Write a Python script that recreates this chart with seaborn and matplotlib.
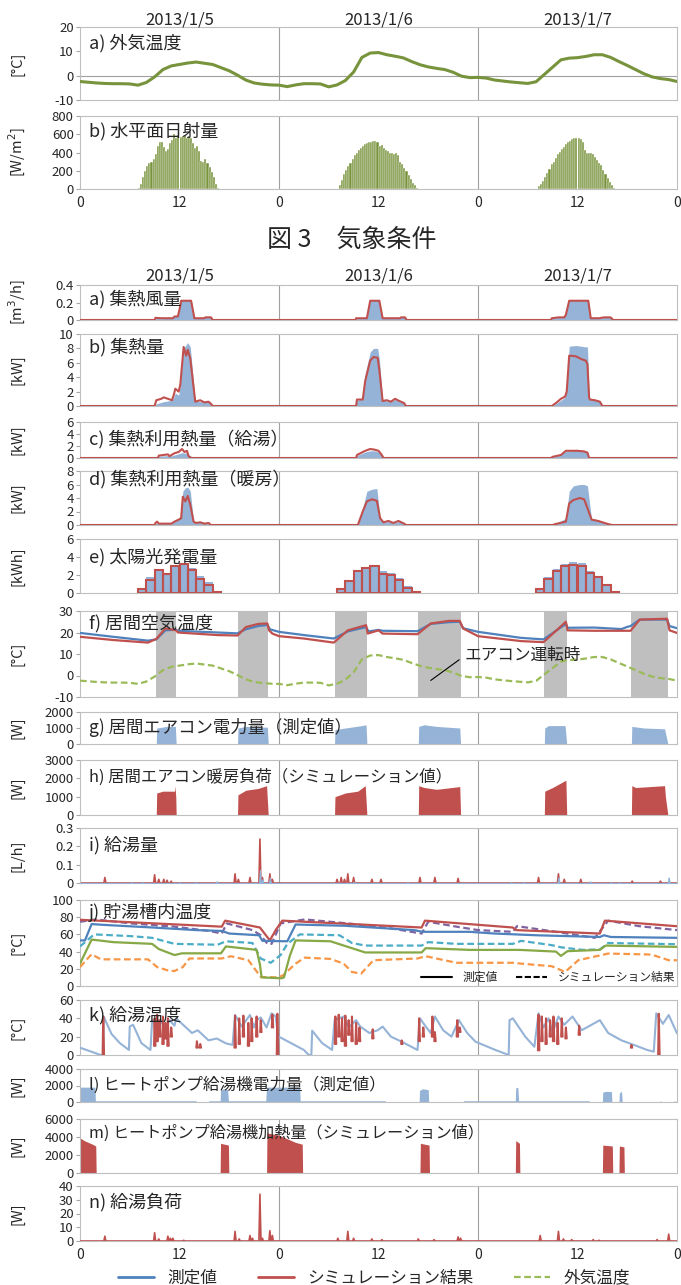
import numpy as np
import matplotlib
matplotlib.use('Agg')
import matplotlib.pyplot as plt
import seaborn as sns
from matplotlib.lines import Line2D

# ---------------- data (hours from 2013/1/5 0:00) ----------------
DAYS = ['2013/1/5', '2013/1/6', '2013/1/7']
X_TICKS = [0, 12, 24, 36, 48, 60, 72]
X_TICK_LABELS = ['0', '12', '0', '12', '0', '12', '0']

HOURS = list(range(73))
OUT_TEMP = [-2.4, -2.7, -3.0, -3.2, -3.3, -3.3, -3.4, -3.9, -2.8, -0.5, 2.5, 4.0, 4.6,
            5.2, 5.6, 5.1, 4.6, 3.3, 2.0, 0.2, -1.8, -3.0, -3.5, -3.8, -3.9, -4.5, -3.8,
            -3.3, -3.3, -3.4, -4.6, -3.8, -2.0, 1.5, 7.5, 9.3, 9.5, 8.6, 8.0, 7.3, 5.8,
            4.5, 3.6, 3.0, 2.5, 1.4, -0.2, -0.8, -0.7, -1.0, -1.8, -2.2, -2.6, -2.9, -3.2,
            -2.5, 0.5, 3.5, 6.5, 7.2, 7.4, 7.9, 8.6, 8.6, 7.5, 5.8, 4.2, 2.5, 0.8, -0.5,
            -1.2, -1.6, -2.4]

# horizontal solar radiation, 15-minute values, one list per day
SOLAR_START = [7.0, 31.0, 55.0]
SOLAR_D1 = [10, 60, 130, 200, 250, 280, 300, 330, 380, 470, 510, 520, 460, 420, 440, 500,
            540, 600, 560, 590, 570, 580, 590, 560, 580, 560, 500, 450, 470, 420, 310, 300,
            330, 290, 240, 190, 130, 60, 10]
SOLAR_D2 = [5, 40, 100, 160, 210, 250, 290, 330, 370, 400, 430, 450, 470, 490, 500, 510,
            520, 530, 530, 510, 470, 480, 450, 430, 420, 400, 390, 380, 400, 370, 300, 270,
            230, 200, 150, 110, 70, 40, 10]
SOLAR_D3 = [5, 30, 60, 90, 130, 170, 220, 270, 300, 340, 380, 410, 440, 460, 490, 510,
            530, 545, 555, 560, 555, 550, 520, 430, 400, 390, 400, 380, 350, 320, 290, 260,
            210, 160, 120, 80, 40, 15, 5]

# a) collector air flow
FLOW_T = [0, 9.0, 9.1, 9.8, 11.2, 11.4, 11.8, 12.0, 12.2, 13.4, 13.8, 15.0, 15.1, 15.8, 16.0,
          33.2, 33.3, 34.6, 35.0, 36.1, 36.5, 38.6, 38.7, 39.2, 39.4, 56.8, 56.9, 57.7, 58.4,
          58.6, 59.0, 61.3, 61.6, 62.6, 63.2, 64.0, 64.3, 72]
FLOW_SIM = [0, 0, 0.025, 0.02, 0.02, 0.04, 0.04, 0.12, 0.22, 0.22, 0.02, 0.02, 0.03, 0.03, 0,
            0, 0.02, 0.02, 0.22, 0.22, 0.02, 0.02, 0.03, 0.03, 0, 0, 0.02, 0.03, 0.03,
            0.06, 0.22, 0.22, 0.02, 0.02, 0.03, 0.03, 0, 0]
FLOW_MEAS = [0, 0, 0.02, 0.015, 0.02, 0.05, 0.06, 0.2, 0.23, 0.23, 0.02, 0.02, 0.03, 0.03, 0,
             0, 0.015, 0.02, 0.23, 0.23, 0.02, 0.02, 0.03, 0.03, 0, 0, 0.02, 0.03, 0.03,
             0.1, 0.23, 0.23, 0.02, 0.02, 0.03, 0.03, 0, 0]

# b) collected heat [kW]
HEAT_T = [0, 9.0, 9.2, 9.8, 10.1, 11.1, 11.3, 11.5, 11.9, 12.1, 12.5, 12.8, 13.0, 13.3, 13.9,
          14.5, 15.0, 15.5, 15.8, 16.0, 33.3, 33.4, 34.1, 34.4, 35.0, 35.4, 35.9, 36.1, 36.5,
          37.0, 37.5, 38.0, 38.5, 39.1, 39.3, 56.9, 57.5, 58.0, 58.5, 58.7, 59.0, 59.8, 60.5,
          61.0, 61.2, 61.4, 61.5, 62.1, 62.7, 63.0, 72]
HEAT_SIM = [0, 0, 0.8, 1.0, 1.2, 0.8, 1.5, 2.4, 2.0, 3.0, 8.2, 7.0, 7.8, 6.6, 0.6,
            0.8, 0.5, 0.6, 0.3, 0, 0, 0.9, 0.9, 3.5, 6.3, 6.8, 6.7, 5.0, 0.7,
            0.8, 0.6, 1.0, 0.7, 0.4, 0, 0, 0.5, 1.0, 1.3, 2.0, 7.0, 6.9, 6.5,
            6.3, 5.8, 1.2, 0.9, 0.8, 0.6, 0, 0]
HEAT_MEAS = [0, 0, 0.3, 0.5, 0.6, 0.8, 1.2, 1.8, 1.5, 3.0, 8.0, 8.5, 8.8, 8.2, 0.7,
             0.6, 0.6, 0.5, 0.2, 0, 0, 0.8, 1.0, 4.5, 7.5, 8.0, 8.0, 6.5, 0.8,
             0.7, 0.6, 0.9, 0.6, 0.4, 0, 0, 0.4, 0.8, 1.2, 2.5, 8.3, 8.4, 8.3,
             8.2, 8.2, 1.5, 0.9, 0.8, 0.6, 0, 0]

# c) collected heat used for hot water [kW]
USE_HW_T = [0, 9.4, 9.5, 10.6, 10.8, 11.4, 11.9, 12.3, 12.6, 12.9, 13.1, 13.4, 13.9, 33.3, 33.4,
            34.4, 35.0, 35.5, 36.0, 36.4, 36.6, 56.8, 57.0, 58.0, 58.6, 60.0, 60.8, 61.2, 61.4, 72]
USE_HW_SIM = [0, 0, 0.4, 0.6, 0.3, 0.8, 1.0, 1.5, 1.0, 1.2, 0.3, 0, 0, 0, 0.5,
              1.2, 1.5, 1.4, 1.2, 0.5, 0, 0, 0.2, 0.5, 1.2, 1.2, 1.1, 0.9, 0, 0]
USE_HW_MEAS = [0, 0, 0.3, 0.4, 0.3, 0.5, 0.7, 0.9, 0.8, 0.9, 0.5, 0.3, 0, 0, 0.4,
               1.0, 1.2, 1.2, 1.0, 0.4, 0, 0, 0.2, 0.6, 1.1, 1.3, 1.2, 1.0, 0, 0]

# d) collected heat used for space heating [kW]
USE_HT_T = [0, 9.0, 9.1, 9.3, 9.5, 11.0, 11.4, 11.9, 12.2, 12.4, 12.7, 13.0, 13.3, 13.7, 14.0,
            14.5, 15.0, 15.5, 15.8, 33.5, 33.6, 34.1, 34.6, 35.2, 35.8, 36.2, 36.6, 37.2, 37.8,
            38.4, 39.1, 39.3, 57.1, 57.2, 58.6, 59.0, 59.5, 60.3, 60.8, 61.2, 61.7, 62.5, 63.0,
            63.8, 64.2, 72]
USE_HT_SIM = [0, 0, 0.3, 0.5, 0.2, 0.2, 0.5, 0.8, 1.0, 4.2, 3.5, 4.3, 3.0, 0.5, 0.3,
              0.4, 0.2, 0.3, 0, 0, 0.3, 2.0, 3.5, 3.8, 3.6, 1.0, 0.4, 0.6, 0.3,
              0.6, 0.2, 0, 0, 0.1, 0.5, 3.2, 3.7, 4.0, 3.8, 2.5, 0.8, 0.6, 0.4,
              0.1, 0, 0]
USE_HT_MEAS = [0, 0, 0.2, 0.3, 0.2, 0.2, 0.6, 1.0, 1.5, 5.0, 5.5, 5.6, 5.0, 0.5, 0.3,
               0.4, 0.2, 0.2, 0, 0, 0.2, 2.5, 5.0, 5.3, 5.4, 1.0, 0.4, 0.5, 0.3,
               0.5, 0.2, 0, 0, 0.1, 1.0, 5.0, 5.8, 6.0, 6.0, 5.8, 0.8, 0.6, 0.4,
               0.1, 0, 0]

# e) PV generation, hourly [kWh]
PV_HOURS = [7, 8, 9, 10, 11, 12, 13, 14, 15, 16, 31, 32, 33, 34, 35, 36, 37, 38, 39, 40,
            55, 56, 57, 58, 59, 60, 61, 62, 63, 64]
PV_SIM = [0.4, 1.5, 2.6, 2.1, 3.0, 3.2, 2.6, 1.6, 0.9, 0.1, 0.4, 1.3, 2.4, 2.8, 3.0, 2.1,
          2.0, 1.4, 0.6, 0.1, 0.4, 1.6, 2.4, 3.0, 3.1, 3.0, 2.2, 1.8, 0.9, 0.1]
PV_MEAS = [0.5, 1.8, 2.6, 2.2, 3.0, 3.3, 2.8, 1.9, 1.2, 0.2, 0.5, 1.5, 2.6, 2.9, 3.1, 2.4,
           2.2, 1.7, 0.8, 0.1, 0.5, 1.8, 2.7, 3.2, 3.4, 3.3, 2.4, 1.8, 1.0, 0.1]

# f) living room air temperature
AC_START = [9.2, 19.0, 30.7, 40.8, 56.0, 66.5]
AC_END = [11.6, 22.7, 34.6, 45.9, 58.7, 70.9]
RT_MEAS_T = [0, 4, 8.2, 9.2, 10.3, 11.6, 11.8, 16.6, 19.0, 20.0, 21.5, 22.6, 22.9, 24, 27,
             30.6, 32.3, 34.5, 34.8, 36.0, 36.5, 40.7, 42.3, 44.5, 45.8, 46.2, 48, 53.2, 55.9,
             58.6, 58.8, 62, 65.3, 66.0, 66.4, 67.5, 70.8, 71.1, 72]
RT_MEAS = [19.8, 18.0, 16.2, 16.8, 21.0, 21.3, 20.8, 20.0, 19.6, 21.5, 23.0, 23.5, 21.5, 20.3,
           18.8, 17.2, 20.5, 22.5, 20.5, 21.2, 20.8, 20.6, 24.0, 24.8, 25.0, 22.0, 20.3, 17.5,
           16.8, 24.0, 22.2, 22.3, 21.6, 22.6, 23.0, 26.0, 26.0, 23.0, 22.0]
RT_SIM_T = [0, 4, 8.2, 9.2, 10.3, 11.6, 11.8, 16.6, 19.0, 20.0, 21.5, 22.6, 22.8, 23.2, 24, 27,
            30.6, 32.3, 34.5, 34.7, 36.0, 36.5, 40.7, 42.3, 44.5, 45.8, 46.2, 47, 48, 53.2,
            55.9, 58.6, 58.8, 62, 66.4, 67.5, 70.8, 71.1, 72]
RT_SIM = [18.0, 16.5, 15.3, 17.0, 21.9, 21.0, 20.0, 18.8, 18.6, 22.5, 24.0, 24.2, 21.0, 19.5,
          18.3, 17.2, 15.3, 21.0, 23.4, 19.5, 21.0, 19.5, 19.2, 24.2, 25.4, 25.4, 21.9, 20.3,
          18.3, 16.0, 15.5, 25.0, 21.0, 20.8, 20.8, 26.0, 26.4, 21.0, 19.8]

# g) air conditioner power (measured)
ACP_T = [0, 9.2, 9.25, 10.5, 11.5, 11.6, 19.0, 19.05, 20.0, 22.6, 22.7, 30.7, 30.75, 32.0,
         34.0, 34.5, 34.6, 40.8, 40.85, 41.5, 43.0, 45.8, 45.9, 56.0, 56.05, 56.5, 58.5, 58.7,
         66.5, 66.55, 68.0, 70.5, 70.9, 72]
ACP_W = [0, 0, 1000, 1100, 1100, 0, 0, 1000, 1100, 1050, 0, 0, 900, 1000, 1150, 1200, 0, 0,
         1100, 1200, 1100, 1000, 0, 0, 1000, 1150, 1150, 0, 0, 1100, 1000, 950, 0, 0]

# h) air conditioner heating load (simulation)
ACL_T = [0, 9.2, 9.25, 10.0, 11.4, 11.45, 11.55, 11.6, 19.0, 19.05, 20.0, 21.5, 22.5, 22.7,
         30.7, 30.75, 32.0, 33.5, 34.4, 34.6, 40.8, 40.85, 41.5, 43.0, 45.8, 45.9, 56.0,
         56.05, 57.0, 58.6, 58.7, 66.5, 66.55, 67.0, 70.5, 70.6, 70.9, 72]
ACL_W = [0, 0, 1200, 1300, 1300, 1600, 1000, 0, 0, 1100, 1350, 1450, 1600, 0, 0, 1000,
         1200, 1300, 1600, 0, 0, 1600, 1500, 1400, 1550, 0, 0, 1300, 1500, 1900, 0, 0, 1600,
         1500, 1600, 1000, 0, 0]

# i) hot water flow [L/h] (draw events)
HWF_SIM_T = [3.0, 9.0, 9.5, 10.1, 10.5, 11.0, 18.7, 19.1, 20.5, 21.7, 22.0, 22.9, 23.2, 31.0,
             31.5, 31.9, 32.3, 33.0, 35.2, 36.3, 41.0, 42.8, 45.6, 55.3, 57.7, 58.4, 60.4,
             66.6, 70.0]
HWF_SIM = [0.03, 0.045, 0.02, 0.02, 0.015, 0.01, 0.05, 0.02, 0.03, 0.24, 0.03, 0.05, 0.02,
           0.02, 0.03, 0.02, 0.05, 0.03, 0.02, 0.02, 0.03, 0.03, 0.025, 0.03, 0.05, 0.02,
           0.02, 0.01, 0.01]
HWF_MEAS_T = [6.2, 7.5, 12.0, 14.0, 16.5, 21.7, 22.0, 22.9, 33.0, 39.5, 52.0, 53.5, 57.7, 61.5,
              64.0, 65.0, 71.0]
HWF_MEAS = [0.005, 0.005, 0.005, 0.005, 0.01, 0.07, 0.02, 0.03, 0.005, 0.005, 0.005, 0.005,
            0.03, 0.01, 0.005, 0.005, 0.03]

# j) storage tank temperatures
TK_TOP_T = [0, 17.1, 17.5, 21.7, 22.5, 22.9, 23.6, 24.4, 41.2, 41.6, 52.2, 52.6, 62.7, 63.3, 72]
TK_TOP = [77, 69, 76, 68, 58, 53, 65, 76, 68, 76, 68, 65, 61, 76, 69.5]
TK_MID_T = [0, 0.6, 1.4, 3, 8.8, 14, 17.1, 18.0, 21.6, 22.0, 25.0, 26.0, 32, 40.3, 41.3, 47,
            50, 55, 62.7, 63.2, 64, 72]
TK_MID = [53, 53, 72, 71, 68, 65, 64, 61, 59, 52.5, 52, 71.5, 70, 65, 63, 63, 61, 59, 57, 59,
          57, 56]
TK_LOW_T = [0, 0.7, 1.4, 4, 8.7, 9.5, 10.3, 11.4, 12.3, 17.0, 17.6, 19.5, 21.3, 21.7, 21.9,
            24.3, 24.6, 25.3, 26.0, 30.2, 32.3, 34.4, 41.2, 41.7, 47, 53, 57.4, 58.0, 58.8,
            62.7, 63.4, 72]
TK_LOW = [26, 40, 54, 51, 49, 43, 40, 36, 38, 38, 46, 44, 42, 25, 10, 9, 10, 35, 53, 52, 45.5,
          39, 39, 44, 42, 42, 40, 35, 40.5, 42, 47, 45.5]
TK_SIM_TOP_T = [0, 1.9, 6.1, 11.4, 15.6, 17.1, 17.7, 20.8, 21.8, 22.6, 23.1, 24.2, 27.1, 32.3,
                37.5, 41.2, 42.0, 45.4, 48, 52.2, 52.7, 57.4, 62.1, 63.7, 67.4, 72]
TK_SIM_TOP = [74.7, 77.4, 72.8, 69, 64, 61, 72.8, 65, 59, 49, 49, 72.8, 77.4, 72.8, 67, 61,
              74.7, 69, 65, 63, 69.6, 63, 56, 76, 69.6, 65]
TK_SIM_MID_T = [0, 1.7, 6.1, 8.7, 11.4, 16.6, 17.6, 20.8, 21.8, 23.0, 24.2, 25.0, 26.5, 31.3,
                32.8, 34.4, 41.2, 42.0, 45.4, 52.2, 53.2, 56.9, 58.0, 60.6, 62.7, 63.7, 72]
TK_SIM_MID = [46, 60, 58, 56, 49, 48, 52, 50, 32, 27, 36, 49, 60, 59, 50, 47, 47, 51, 49, 49,
              52.5, 47.5, 45, 42, 42.5, 50, 48.6]
TK_SIM_LOW_T = [0, 1.4, 2.5, 8.2, 9.3, 10.8, 11.4, 12.4, 13.2, 17.1, 18.2, 20.3, 21.8, 23.9,
                24.5, 26.0, 27.1, 30.2, 31.8, 32.8, 33.9, 35.4, 40.7, 41.7, 45.4, 52.2, 53.2,
                56.9, 58.5, 60.1, 63.7, 68.9, 71.0, 72]
TK_SIM_LOW = [22, 37, 31, 31, 22, 17.5, 17.5, 22, 32, 32, 34.6, 30, 10.5, 10, 12.5, 26, 33,
              31.5, 26, 16.3, 14.4, 30, 32, 34.6, 27, 27, 26, 23, 16.3, 30, 37.7, 36.6, 30, 30]

# k) supply hot water temperature
SUP_MEAS_T = [0, 2.5, 2.8, 2.85, 3.8, 4.8, 5.9, 6.0, 6.4, 7.4, 8.5, 8.7, 9.4, 9.7, 10.3, 10.8,
              11.4, 11.6, 13.5, 14.2, 15.5, 16.5, 17.6, 18.4, 18.7, 19.5, 20.5, 21.0, 21.3,
              21.8, 22.5, 23.1, 23.6, 23.9, 24.2, 27.0, 27.6, 27.9, 28.0, 29.2, 30.4, 30.7,
              31.8, 32.4, 33.3, 33.8, 34.9, 35.9, 36.5, 37.5, 38.8, 40.7, 41.0, 41.7, 42.3,
              42.8, 43.8, 44.8, 45.7, 46.7, 47.7, 50.1, 51.7, 51.8, 52.2, 53.7, 54.8, 55.3,
              55.9, 56.5, 57.0, 57.7, 58.4, 59.4, 60.5, 62.7, 63.7, 65.3, 66.8, 68.4, 69.2,
              69.5, 70.3, 71.0, 72]
SUP_MEAS = [8, 0, 0, 42, 23, 13, 5.5, 31, 33, 13, 5.5, 38, 30, 38, 28, 38, 32, 40, 24, 27, 16,
            18, 12.7, 11, 43.6, 31, 43.6, 30, 38, 41, 30, 45.5, 42, 20, 19, 5.5, 0, 0, 26.5,
            13, 5.5, 38, 42, 30, 38, 31, 24, 27, 31, 20, 14.5, 5.5, 40, 31, 24, 42, 27, 20,
            38, 24, 14.5, 5.5, 0, 38, 40, 20, 9, 45.5, 30, 40, 25, 42, 33, 42, 27, 38, 24, 16,
            11, 5.5, 3.6, 45.5, 34, 43.6, 23.6]
SUP_SIM_T = [2.8, 9.0, 9.3, 9.6, 10.0, 10.3, 10.6, 11.0, 14.1, 14.5, 18.7, 19.2, 19.7, 20.3,
             20.7, 21.3, 21.8, 23.2, 23.8, 30.8, 31.2, 31.6, 32.0, 32.4, 32.8, 33.3, 33.7,
             35.3, 38.8, 40.9, 41.4, 42.5, 42.8, 45.5, 45.8, 55.3, 55.7, 56.2, 56.7, 57.1,
             57.6, 58.1, 58.6, 60.2, 66.5, 69.8]
SUP_SIM_HI = [42, 40, 44, 38, 42, 35, 40, 30, 15, 12, 43, 40, 43, 35, 40, 42, 38, 44, 45, 42,
              44, 40, 43, 38, 42, 35, 30, 28, 16, 40, 30, 42, 25, 38, 30, 44, 42, 40, 38, 42,
              35, 40, 30, 32, 11, 45]
SUP_SIM_LO = [0, 10, 15, 20, 12, 18, 10, 20, 8, 8, 8, 12, 20, 10, 15, 20, 25, 30, 0, 12, 20,
              15, 10, 22, 15, 12, 15, 18, 12, 15, 20, 20, 15, 20, 25, 5, 15, 12, 20, 15, 12,
              20, 18, 22, 8, 0]

# l) heat pump water heater power (measured)
HPP_T = [0, 1.8, 1.85, 14.0, 14.05, 15.5, 15.55, 16.9, 16.95, 17.3, 17.8, 17.9, 22.4, 22.5,
         26.5, 26.55, 36.8, 36.85, 40.9, 40.95, 41.3, 42.0, 42.05, 46.2, 46.25, 52.5, 52.55,
         52.8, 52.9, 61.4, 61.45, 63.0, 63.05, 63.5, 64.1, 64.15, 65.0, 65.05, 65.3, 65.4,
         69.9, 70.0, 70.2, 71.5, 71.6, 72]
HPP_W = [1800, 1800, 150, 150, 0, 0, 150, 150, 1400, 1600, 1500, 150, 150, 1800, 1800, 150,
         150, 0, 0, 1400, 1600, 1500, 0, 0, 150, 150, 1700, 1800, 150, 150, 0, 0, 1200, 1300,
         1250, 0, 0, 1100, 1300, 0, 0, 150, 0, 0, 100, 100]

# m) heat pump water heater heating (simulation)
HPQ_T = [0, 0.5, 1.5, 1.9, 1.95, 16.9, 16.95, 17.9, 17.95, 22.5, 22.55, 24.0, 25.0, 26.0,
         26.8, 26.85, 41.0, 41.05, 42.1, 42.15, 52.5, 52.55, 53.0, 53.05, 63.0, 63.05, 64.2,
         64.25, 65.0, 65.05, 65.6, 65.65, 72]
HPQ_W = [3900, 3600, 3200, 3000, 0, 0, 3300, 3100, 0, 0, 4450, 4200, 3800, 3400, 3200, 0, 0,
         3300, 3100, 0, 0, 3600, 3300, 0, 0, 3100, 3000, 0, 0, 3000, 2900, 0, 0]

# n) hot water load [W]
HWL_SIM_T = [3.0, 9.0, 9.5, 10.6, 10.9, 11.2, 12.5, 18.7, 19.2, 20.5, 20.8, 21.7, 22.0, 22.9,
             23.2, 31.1, 32.3, 33.0, 35.2, 36.4, 40.8, 42.7, 45.6, 45.9, 55.5, 57.7, 58.3,
             59.3, 61.9, 62.6, 69.6, 71.0]
HWL_SIM = [3.5, 6.0, 1.5, 3.5, 2.0, 2.0, 0.5, 7.0, 1.5, 4.0, 2.0, 34.0, 2.0, 7.5, 4.0, 2.0,
           7.0, 2.0, 1.5, 1.0, 1.5, 1.0, 3.0, 2.0, 4.0, 7.0, 1.5, 1.0, 1.0, 0.5, 1.0, 5.0]
HWL_MEAS_T = [3.0, 9.0, 10.6, 18.7, 20.5, 21.7, 22.9, 32.3, 45.6, 57.7, 71.0]
HWL_MEAS = [2.5, 4.0, 2.5, 5.0, 3.0, 36.0, 8.0, 6.0, 2.5, 7.5, 3.5]

# ---------------- style ----------------
BLUE_FILL = '#95B3D7'
BLUE = '#4F81BD'
RED = '#C0504D'
GREEN = '#9BBB59'
OLIVE = '#77933C'
PURPLE = '#8064A2'
CYAN = '#4BACC6'
ORANGE = '#F79646'
GRID = '#A0A0A0'

sns.set_theme(style='white')
plt.rcParams['font.family'] = ['Noto Sans CJK JP', 'DejaVu Sans']
plt.rcParams['axes.unicode_minus'] = False

W_PX, H_PX = 681, 1285
LEFT, RIGHT = 80, 677

fig = plt.figure(figsize=(W_PX / 100, H_PX / 100), dpi=100)


def panel(top, bottom, yticks, ylabel, title, title_y, title_size=13):
    ax = fig.add_axes([LEFT / W_PX, 1 - bottom / H_PX, (RIGHT - LEFT) / W_PX, (bottom - top) / H_PX])
    ax.set_facecolor('white')
    for s in ax.spines.values():
        s.set_color('#BFBFBF')
        s.set_linewidth(0.8)
    ax.axvline(24, color=GRID, lw=0.8, zorder=1)
    ax.axvline(48, color=GRID, lw=0.8, zorder=1)
    ax.set_yticks(yticks)
    ax.set_yticklabels(['{:g}'.format(v) for v in yticks])
    ax.set_ylim(yticks[0], yticks[-1])
    ax.set_xticks(X_TICKS)
    ax.set_xticklabels([])
    ax.set_xlim(0, 72)
    ax.tick_params(axis='x', length=0)
    ax.tick_params(axis='y', length=3, width=0.8, color='#A6A6A6', labelsize=9.5,
                   pad=1.5, left=True)
    fig.text(17 / W_PX, 1 - (top + bottom) / 2 / H_PX, ylabel, rotation=90,
             ha='center', va='center', fontsize=10.5)
    fig.text(89 / W_PX, 1 - title_y / H_PX, title, ha='left', va='center',
             fontsize=title_size, zorder=5)
    return ax


def line(ax, t, v, color, lw=1.5, ls='-', zorder=3):
    sns.lineplot(x=t, y=v, ax=ax, color=color, lw=lw, linestyle=ls, estimator=None,
                 sort=False, legend=False, zorder=zorder)


GRID_T = np.linspace(0, 72, 3601)


def spikes(ts, vs, w=0.12):
    y = np.zeros_like(GRID_T)
    for t, v in zip(ts, vs):
        y = np.maximum(y, np.interp(GRID_T, [t - w, t, t + w], [0, v, 0]))
    return y


def finish(ax, yticks):
    ax.set_xlim(0, 72)
    ax.set_ylim(yticks[0], yticks[-1])
    ax.set_xlabel('')
    ax.set_ylabel('')


def bottom_labels(ax):
    ax.set_xticklabels(X_TICK_LABELS)
    ax.tick_params(axis='x', labelsize=10, pad=5)


# ---------------- Fig.3 weather ----------------
yt = [-10, 0, 10, 20]
ax = panel(27, 100, yt, '[°C]', 'a) 外気温度', 43)
ax.axhline(0, color=GRID, lw=0.8, zorder=1)
line(ax, HOURS, OUT_TEMP, OLIVE, lw=2.2)
finish(ax, yt)

yt = [0, 200, 400, 600, 800]
ax = panel(116, 189, yt, '[W/m$^2$]', 'b) 水平面日射量', 131)
for start, vals in zip(SOLAR_START, [SOLAR_D1, SOLAR_D2, SOLAR_D3]):
    ts = [start + 0.25 * i for i in range(len(vals))]
    ax.bar(ts, vals, width=0.25, align='edge', color=OLIVE, edgecolor='white', lw=0.3,
           zorder=2)
finish(ax, yt)
bottom_labels(ax)

for k, d in enumerate(DAYS):
    xf = (LEFT + (RIGHT - LEFT) * (12 + 24 * k) / 72) / W_PX
    fig.text(xf, 1 - 20 / H_PX, d, ha='center', va='center', fontsize=12)
    fig.text(xf, 1 - 276 / H_PX, d, ha='center', va='center', fontsize=12)

fig.text(352 / W_PX, 1 - 240 / H_PX, '図 3　気象条件', ha='center', va='center', fontsize=18)

# ---------------- Fig.4 results ----------------
yt = [0, 0.2, 0.4]
ax = panel(285, 320, yt, '[m$^3$/h]', 'a) 集熱風量', 299)
ax.fill_between(FLOW_T, FLOW_MEAS, color=BLUE_FILL, lw=0, zorder=2)
line(ax, FLOW_T, FLOW_SIM, RED, lw=1.5)
finish(ax, yt)

yt = [0, 2, 4, 6, 8, 10]
ax = panel(334, 406, yt, '[kW]', 'b) 集熱量', 347)
ax.fill_between(HEAT_T, HEAT_MEAS, color=BLUE_FILL, lw=0, zorder=2)
line(ax, HEAT_T, HEAT_SIM, RED, lw=1.5)
finish(ax, yt)

yt = [0, 2, 4, 6]
ax = panel(422, 458, yt, '[kW]', 'c) 集熱利用熱量（給湯）', 439)
ax.fill_between(USE_HW_T, USE_HW_MEAS, color=BLUE_FILL, lw=0, zorder=2)
line(ax, USE_HW_T, USE_HW_SIM, RED, lw=1.5)
finish(ax, yt)

yt = [0, 2, 4, 6, 8]
ax = panel(471, 525, yt, '[kW]', 'd) 集熱利用熱量（暖房）', 479)
ax.fill_between(USE_HT_T, USE_HT_MEAS, color=BLUE_FILL, lw=0, zorder=2)
line(ax, USE_HT_T, USE_HT_SIM, RED, lw=1.5)
finish(ax, yt)

yt = [0, 2, 4, 6]
ax = panel(539, 593, yt, '[kWh]', 'e) 太陽光発電量', 557)
ax.bar(PV_HOURS, PV_MEAS, width=1, align='edge', color=BLUE_FILL, lw=0, zorder=2)
ax.bar(PV_HOURS, PV_SIM, width=1, align='edge', fill=False, edgecolor=RED, lw=1.5, zorder=3)
finish(ax, yt)

yt = [-10, 0, 10, 20, 30]
ax = panel(611, 697, yt, '[°C]', 'f) 居間空気温度', 623)
for s, e in zip(AC_START, AC_END):
    ax.axvspan(s, e, color='#BFBFBF', lw=0, zorder=1)
line(ax, RT_MEAS_T, RT_MEAS, BLUE, lw=1.6)
line(ax, RT_SIM_T, RT_SIM, RED, lw=1.6)
line(ax, HOURS, OUT_TEMP, GREEN, lw=1.6, ls=(0, (3, 1.6)))
ax.annotate('エアコン運転時', xy=(42.3, -2.3), xytext=(46.4, 9.2), fontsize=12,
            va='center', ha='left', zorder=6,
            arrowprops=dict(arrowstyle='-', color='black', lw=0.8, shrinkA=2, shrinkB=0,
                            relpos=(0, 0.5)))
finish(ax, yt)

yt = [0, 1000, 2000]
ax = panel(712, 744, yt, '[W]', 'g) 居間エアコン電力量（測定値）', 727, 12.5)
ax.fill_between(ACP_T, ACP_W, color=BLUE_FILL, lw=0, zorder=2)
finish(ax, yt)

yt = [0, 1000, 2000, 3000]
ax = panel(760, 815, yt, '[W]', 'h) 居間エアコン暖房負荷（シミュレーション値）', 777, 11.8)
ax.fill_between(ACL_T, ACL_W, color=RED, lw=0, zorder=2)
finish(ax, yt)

yt = [0, 0.1, 0.2, 0.3]
ax = panel(828, 883, yt, '[L/h]', 'i) 給湯量', 845)
ax.fill_between(GRID_T, spikes(HWF_MEAS_T, HWF_MEAS), color=BLUE_FILL, lw=0.8,
                edgecolor=BLUE_FILL, zorder=3)
line(ax, GRID_T, spikes(HWF_SIM_T, HWF_SIM), RED, lw=1.2, zorder=2)
finish(ax, yt)

yt = [0, 20, 40, 60, 80, 100]
ax = panel(900, 986, yt, '[°C]', 'j) 貯湯槽内温度', 913)
dash = (0, (3, 1.6))
line(ax, TK_SIM_TOP_T, TK_SIM_TOP, PURPLE, lw=1.6, ls=dash)
line(ax, TK_SIM_MID_T, TK_SIM_MID, CYAN, lw=1.6, ls=dash)
line(ax, TK_SIM_LOW_T, TK_SIM_LOW, ORANGE, lw=1.6, ls=dash)
line(ax, TK_TOP_T, TK_TOP, RED, lw=1.6)
line(ax, TK_MID_T, TK_MID, BLUE, lw=1.6)
line(ax, TK_LOW_T, TK_LOW, '#86A845', lw=1.6)
ax.legend(handles=[Line2D([], [], color='black', lw=1.5),
                   Line2D([], [], color='black', lw=1.5, ls=(0, (3, 1.2)))],
          labels=['測定値', 'シミュレーション結果'], loc='lower right', ncol=2,
          frameon=False, fontsize=8.5, handlelength=2.6, handletextpad=0.9,
          columnspacing=1.6, borderaxespad=0.05, borderpad=0.1)
finish(ax, yt)

yt = [0, 20, 40, 60]
ax = panel(1000, 1055, yt, '[°C]', 'k) 給湯温度', 1015)
line(ax, SUP_MEAS_T, SUP_MEAS, BLUE_FILL, lw=1.5)
sx, sy = [], []
for t, lo, hi in zip(SUP_SIM_T, SUP_SIM_LO, SUP_SIM_HI):
    sx += [t - 0.07, t, t + 0.1, np.nan]
    sy += [lo, hi, lo, np.nan]
ax.plot(sx, sy, color=RED, lw=1.5, zorder=4)
finish(ax, yt)

yt = [0, 2000, 4000]
ax = panel(1069, 1102, yt, '[W]', 'l) ヒートポンプ給湯機電力量（測定値）', 1085, 12)
ax.fill_between(HPP_T, HPP_W, color=BLUE_FILL, lw=0, zorder=2)
finish(ax, yt)

yt = [0, 2000, 4000, 6000]
ax = panel(1119, 1173, yt, '[W]', 'm) ヒートポンプ給湯機加熱量（シミュレーション値）', 1133, 11.6)
ax.fill_between(HPQ_T, HPQ_W, color=RED, lw=0, zorder=2)
finish(ax, yt)

yt = [0, 10, 20, 30, 40]
ax = panel(1186, 1241, yt, '[W]', 'n) 給湯負荷', 1202)
ax.fill_between(GRID_T, spikes(HWL_MEAS_T, HWL_MEAS), color=BLUE_FILL, lw=0, zorder=2)
line(ax, GRID_T, spikes(HWL_SIM_T, HWL_SIM), RED, lw=1.2, zorder=3)
finish(ax, yt)
bottom_labels(ax)

fig.legend(handles=[Line2D([], [], color=BLUE, lw=2),
                    Line2D([], [], color=RED, lw=2),
                    Line2D([], [], color=GREEN, lw=1.6, ls=(0, (3, 1.6)))],
           labels=['測定値', 'シミュレーション結果', '外気温度'], loc='center',
           bbox_to_anchor=(374 / W_PX, 1 - 1278 / H_PX), ncol=3, frameon=False,
           fontsize=12, handlelength=2.2, handletextpad=0.8, columnspacing=2.4)

fig.savefig('out.png', dpi=100)
